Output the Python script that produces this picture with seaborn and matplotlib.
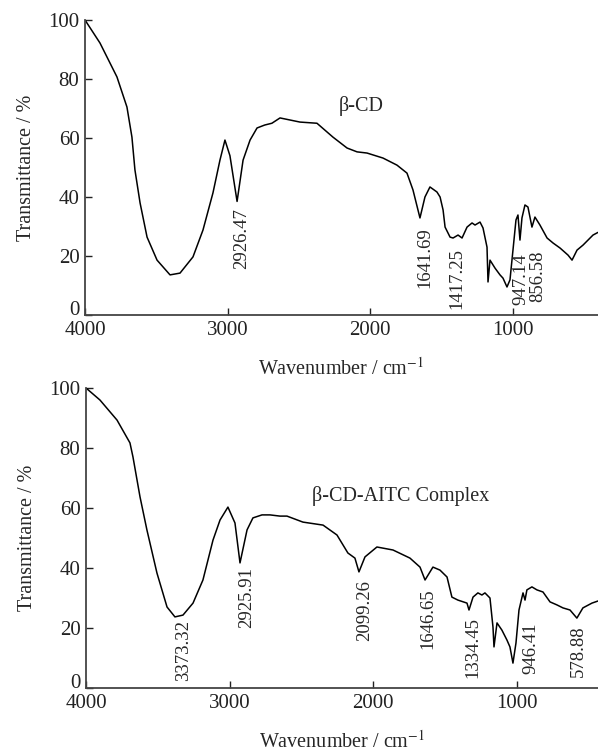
import matplotlib
matplotlib.use("Agg")
import matplotlib.pyplot as plt
import seaborn as sns

sns.set_theme(style="ticks")
plt.rcParams['font.family'] = ['Liberation Serif', 'DejaVu Serif']
plt.rcParams['mathtext.fontset'] = 'stix'

# beta-CD spectrum (wavenumber / transmittance)
cd_wn = [4000, 3895, 3776, 3706, 3671, 3650, 3614, 3565, 3495, 3404, 3334, 3243,
         3173, 3103, 3054, 3019, 2984, 2934, 2892, 2843, 2794, 2740, 2690, 2633,
         2493, 2374, 2262, 2163, 2093, 2023, 1911, 1813, 1743, 1701, 1652, 1617,
         1582, 1533, 1511, 1490, 1476, 1441, 1420, 1385, 1357, 1322, 1287, 1266,
         1231, 1210, 1182, 1175, 1161, 1126, 1091, 1070, 1042, 1021, 1000, 979,
         965, 951, 937, 916, 895, 867, 846, 811, 761, 719, 670, 614, 586, 551,
         509, 439, 404]
cd_t = [100, 92.2, 80.7, 70.5, 60.3, 49.2, 38, 26.4, 18.6, 13.6, 14.2, 19.7,
        28.8, 41.4, 52.5, 59.3, 54, 38.5, 52.5, 59.3, 63.4, 64.4, 65, 66.8,
        65.4, 65, 60.3, 56.6, 55.3, 54.9, 53.2, 50.8, 48.1, 42.4, 32.9, 40,
        43.4, 41.7, 40, 35.6, 29.8, 26.4, 26.1, 27.1, 26.1, 29.8, 31.2, 30.5,
        31.5, 29.5, 23, 11.2, 18.6, 15.9, 13.6, 12.5, 9.5, 11.9, 22, 32.2,
        33.9, 25.4, 32.9, 37.3, 36.6, 29.8, 33.2, 30.5, 26.1, 24.4, 22.7, 20.3, 18.6, 22,
        23.7, 27.1, 28]

# beta-CD-AITC complex spectrum
cx_wn = [4000, 3903, 3784, 3694, 3673, 3624, 3576, 3506, 3436, 3381, 3325, 3255,
         3186, 3116, 3067, 3012, 2963, 2928, 2879, 2838, 2775, 2719, 2650, 2601,
         2490, 2350, 2253, 2177, 2128, 2100, 2058, 1975, 1863, 1745, 1675, 1640,
         1585, 1536, 1487, 1453, 1411, 1348, 1334, 1306, 1272, 1244, 1223, 1188,
         1167, 1160, 1139, 1105, 1070, 1049, 1028, 1007, 986, 958, 944, 931, 896,
         861, 819, 770, 722, 680, 631, 583, 541, 478, 436]
cx_t = [100, 96, 89.3, 81.7, 77, 63.7, 52.7, 38.3, 27, 23.7, 24.3, 28.3,
        36, 49.3, 56, 60.3, 55, 41.7, 52.7, 56.7, 57.7, 57.7, 57.3, 57.3,
        55.3, 54.3, 51, 45, 43.3, 38.7, 43.7, 47, 46, 43.3, 40.3, 36,
        40.3, 39.3, 37, 30.3, 29.3, 28.3, 26, 30.3, 31.7, 31, 31.7, 30,
        20.3, 13.7, 21.7, 19.3, 16, 13.7, 8.3, 15, 26, 31.7, 29.3, 32.7, 33.7,
        32.7, 32, 28.7, 27.7, 26.7, 26, 23.3, 26.7, 28.3, 29]

# peak labels: text, x, y of the top of the label
cd_labels = ["2926.47", "1641.69", "1417.25", "947.14", "856.58"]
cd_lab_x = [2899, 1617, 1392, 944, 824]
cd_lab_y = [36.3, 29.8, 22.7, 21, 22]
cx_labels = ["3373.32", "2925.91", "2099.26", "1646.65", "1334.45", "946.41", "578.88"]
cx_lab_x = [3318, 2879, 2058, 1620, 1306, 903, 576]
cx_lab_y = [22.7, 40.3, 36, 33.3, 23.7, 22, 21]

fs = 14.5
fig = plt.figure(figsize=(5.98, 7.51), dpi=100)
ax1 = fig.add_axes([85 / 598, 1 - 315 / 751, 1 - 85 / 598, 295 / 751])
ax2 = fig.add_axes([86 / 598, 1 - 688 / 751, 1 - 86 / 598, 300 / 751])

panels = [
    (ax1, cd_wn, cd_t, cd_labels, cd_lab_x, cd_lab_y, "β-CD", 2065, 71, 404),
    (ax2, cx_wn, cx_t, cx_labels, cx_lab_x, cx_lab_y, "β-CD-AITC Complex", 1808, 64, 436),
]
for ax, wn, t, labs, lx, ly, name, nx, ny, xend in panels:
    sns.lineplot(x=wn, y=t, ax=ax, color="black", lw=1.1, estimator=None)
    ax.set_xlim(4000, xend)
    ax.set_ylim(0, 100)
    ax.set_xticks([4000, 3000, 2000, 1000])
    ax.set_yticks([0, 20, 40, 60, 80, 100])
    sns.despine(ax=ax)
    for s in ["left", "bottom"]:
        ax.spines[s].set_linewidth(1.3)
        ax.spines[s].set_color("#444444")
    ax.tick_params(direction="in", length=5, width=1, labelsize=15, pad=4, colors="#222222")
    # the "0" sits on the axis line, above the 4000
    ax.get_yticklabels()[0].set_verticalalignment("baseline")
    ax.set_xlabel("Wavenumber / cm$^{-1}$", fontsize=fs, labelpad=13)
    ax.set_ylabel("Transmittance / %", fontsize=fs, labelpad=9)
    for s, x, y in zip(labs, lx, ly):
        ax.text(x, y, s, rotation=90, ha="center", va="top", fontsize=13.5)
    ax.text(nx, ny, name, ha="center", va="center", fontsize=fs)

fig.savefig("out.png", dpi=100)
